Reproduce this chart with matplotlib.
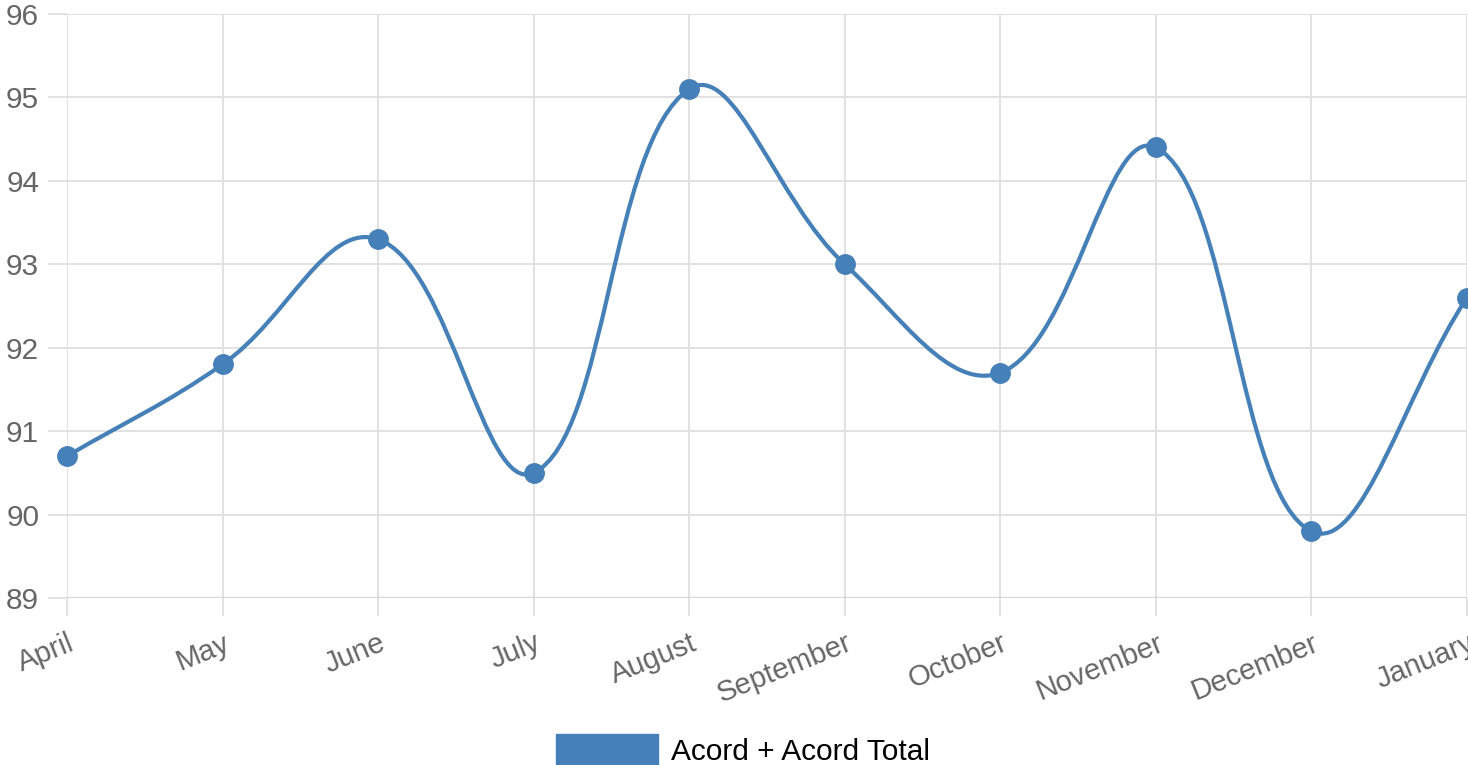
import numpy as np
import matplotlib.pyplot as plt
import matplotlib.transforms as mtransforms
from matplotlib.path import Path
from matplotlib.patches import PathPatch, Patch

plt.switch_backend('Agg')
plt.rcParams['font.family'] = ['Liberation Sans', 'DejaVu Sans']

months = ['April', 'May', 'June', 'July', 'August', 'September',
          'October', 'November', 'December', 'January']
values = [90.7, 91.8, 93.3, 90.5, 95.1, 93.0, 91.7, 94.4, 89.8, 92.6]
y_ticks = [89, 90, 91, 92, 93, 94, 95, 96]
series_name = 'Acord + Acord Total'

line_color = '#4580b8'
grid_color = '#e1e1e1'
label_color = '#666666'

W, H = 1468, 765
fig = plt.figure(figsize=(W / 100, H / 100), dpi=100)
ax = fig.add_axes([67 / W, 167 / H, 1400 / W, 584 / H])

x = np.arange(len(months))
ax.set_xlim(0, len(months) - 1)
ax.set_ylim(89, 96)

# cubic bezier curve with tension 0.4, control points computed in pixel space
fig.canvas.draw()
pts = ax.transData.transform(np.column_stack([x, values]))
tension = 0.4
verts = [tuple(pts[0])]
codes = [Path.MOVETO]
ctrl = []
for i in range(len(pts)):
    prev = pts[i - 1] if i > 0 else pts[i]
    nxt = pts[i + 1] if i < len(pts) - 1 else pts[i]
    cur = pts[i]
    d01 = np.hypot(*(cur - prev))
    d12 = np.hypot(*(nxt - cur))
    tot = d01 + d12
    s01 = d01 / tot if tot else 0
    s12 = d12 / tot if tot else 0
    ctrl.append((cur - tension * s01 * (nxt - prev), cur + tension * s12 * (nxt - prev)))
for i in range(1, len(pts)):
    verts += [tuple(ctrl[i - 1][1]), tuple(ctrl[i][0]), tuple(pts[i])]
    codes += [Path.CURVE4] * 3
inv = ax.transData.inverted()
curve = Path(inv.transform(np.array(verts)), codes)
ax.add_patch(PathPatch(curve, facecolor='none', edgecolor=line_color, lw=3.0,
                       zorder=3, clip_on=False))
ax.plot(x, values, 'o', color=line_color, markersize=14, zorder=4, clip_on=False)

# grid and ticks
for s in ax.spines.values():
    s.set_visible(False)
ax.grid(True, color=grid_color, lw=1.4)
ax.set_axisbelow(True)
ax.set_yticks(y_ticks)
ax.set_xticks(x)
ax.set_xticklabels(months)
ax.tick_params(axis='y', length=14, width=1.4, color=grid_color, pad=6,
               labelsize=21.5, labelcolor=label_color)
ax.tick_params(axis='x', length=13, width=1.4, color=grid_color, pad=0,
               labelsize=21, labelcolor=label_color)
ax.axhline(89, color='#d6d6d6', lw=1.6, zorder=1)

offset = mtransforms.ScaledTranslation(6 / 100, -26 / 100, fig.dpi_scale_trans)
for lbl in ax.get_xticklabels():
    lbl.set_rotation(22)
    lbl.set_rotation_mode('anchor')
    lbl.set_ha('right')
    lbl.set_va('center')
    lbl.set_transform(lbl.get_transform() + offset)

fig.legend(handles=[Patch(facecolor=line_color, edgecolor=line_color)],
           labels=[series_name], loc='upper left',
           bbox_to_anchor=(556 / W, 31 / H), frameon=False, fontsize=21.5,
           handlelength=3.4, handleheight=1.3, handletextpad=0.45,
           borderpad=0, borderaxespad=0)

fig.savefig('out.png', dpi=100)
